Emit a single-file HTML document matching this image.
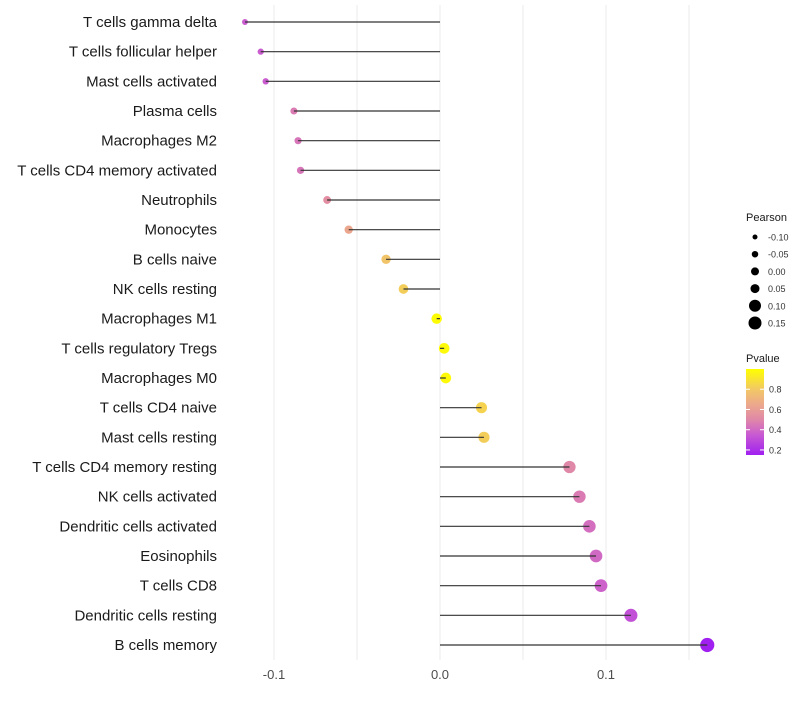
<!DOCTYPE html>
<html><head><meta charset="utf-8"><style>
body{margin:0;background:#fff;font-family:"Liberation Sans",sans-serif}
</style></head><body>
<svg id="c" width="800" height="700" xmlns="http://www.w3.org/2000/svg"></svg>
<script>
const categories=["T cells gamma delta","T cells follicular helper","Mast cells activated","Plasma cells","Macrophages M2","T cells CD4 memory activated","Neutrophils","Monocytes","B cells naive","NK cells resting","Macrophages M1","T cells regulatory  Tregs ","Macrophages M0","T cells CD4 naive","Mast cells resting","T cells CD4 memory resting","NK cells activated","Dendritic cells activated","Eosinophils","T cells CD8","Dendritic cells resting","B cells memory"];
const pearson=[-0.1175,-0.108,-0.105,-0.088,-0.0855,-0.084,-0.068,-0.055,-0.0325,-0.022,-0.002,0.0025,0.0035,0.025,0.0265,0.078,0.084,0.090,0.094,0.097,0.115,0.161];
const pvalue=[0.36,0.36,0.36,0.46,0.44,0.44,0.53,0.64,0.78,0.82,0.99,0.98,0.98,0.84,0.82,0.5,0.46,0.42,0.4,0.38,0.32,0.15];
const xTicks=[-0.1,0,0.1];
const xTickLabels=["-0.1","0.0","0.1"];
const sizeLegend=[-0.10,-0.05,0.00,0.05,0.10,0.15];
const pTicks=[0.2,0.4,0.6,0.8];
const NS="http://www.w3.org/2000/svg",svg=document.getElementById('c');
function mk(t,a,p){const e=document.createElementNS(NS,t);for(const k in a)e.setAttribute(k,a[k]);(p||svg).appendChild(e);return e;}
const X=v=>440+v*1660;
const Y=i=>22+i*(623/21);
const R=v=>Math.max(1.6,v<0?5.3+20*v:5.3+11*v);
const LR=v=>v<0?4+15*v:4+10*v;
const stops=[[0.15,[160,32,240]],[0.35,[200,90,210]],[0.5,[224,136,168]],[0.65,[236,168,140]],[0.8,[242,200,100]],[1.0,[255,255,0]]];
function col(p){p=Math.max(0.15,Math.min(1,p));for(let i=1;i<stops.length;i++){if(p<=stops[i][0]){const a=stops[i-1],b=stops[i],t=(p-a[0])/(b[0]-a[0]);const c=a[1].map((v,j)=>Math.round(v+(b[1][j]-v)*t));return `rgb(${c})`;}}return 'rgb(255,255,0)';}
for(let v=-0.1;v<=0.151;v+=0.05){const g=mk('line',{x1:X(v),x2:X(v),y1:5,y2:660,stroke:'#ebebeb','stroke-width':1});}
xTicks.forEach((v,i)=>{const t=mk('text',{x:X(v),y:679,'font-size':13,fill:'#4d4d4d','text-anchor':'middle'});t.textContent=xTickLabels[i];});
categories.forEach((c,i)=>{
 const y=Y(i);
 const l=mk('text',{x:217,y:y+5,'font-size':15,fill:'#1a1a1a','text-anchor':'end'});l.textContent=c;
 const d=mk('circle',{cx:X(pearson[i]),cy:y,r:R(pearson[i]),fill:col(pvalue[i])});
 const s=mk('line',{x1:X(0),x2:X(pearson[i]),y1:y,y2:y,stroke:'#333','stroke-width':1.2});
});
let t=mk('text',{x:746,y:221,'font-size':11,fill:'#1a1a1a'});t.textContent='Pearson';
sizeLegend.forEach((v,i)=>{const y=237+i*17.2;const c=mk('circle',{cx:755,cy:y,r:LR(v)+ (v>=0.1?1:0),fill:'#000'});
 const l=mk('text',{x:768,y:y+3.5,'font-size':9,fill:'#333'});l.textContent=v.toFixed(2);});
t=mk('text',{x:746,y:362,'font-size':11,fill:'#1a1a1a'});t.textContent='Pvalue';
const defs=mk('defs',{});const gr=mk('linearGradient',{id:'g',x1:0,y1:1,x2:0,y2:0},defs);
stops.forEach(s=>mk('stop',{offset:(s[0]-0.15)/0.85,'stop-color':col(s[0])},gr));
const bar=mk('rect',{x:746,y:369,width:18,height:86,fill:'url(#g)'});
const PY=p=>455-(p-0.15)/0.85*86;
pTicks.forEach(p=>{mk('line',{x1:746,x2:750,y1:PY(p),y2:PY(p),stroke:'#fff'});mk('line',{x1:760,x2:764,y1:PY(p),y2:PY(p),stroke:'#fff'});
 const l=mk('text',{x:769,y:PY(p)+3.5,'font-size':9,fill:'#333'});l.textContent=p.toFixed(1);});
</script>
</body></html>
